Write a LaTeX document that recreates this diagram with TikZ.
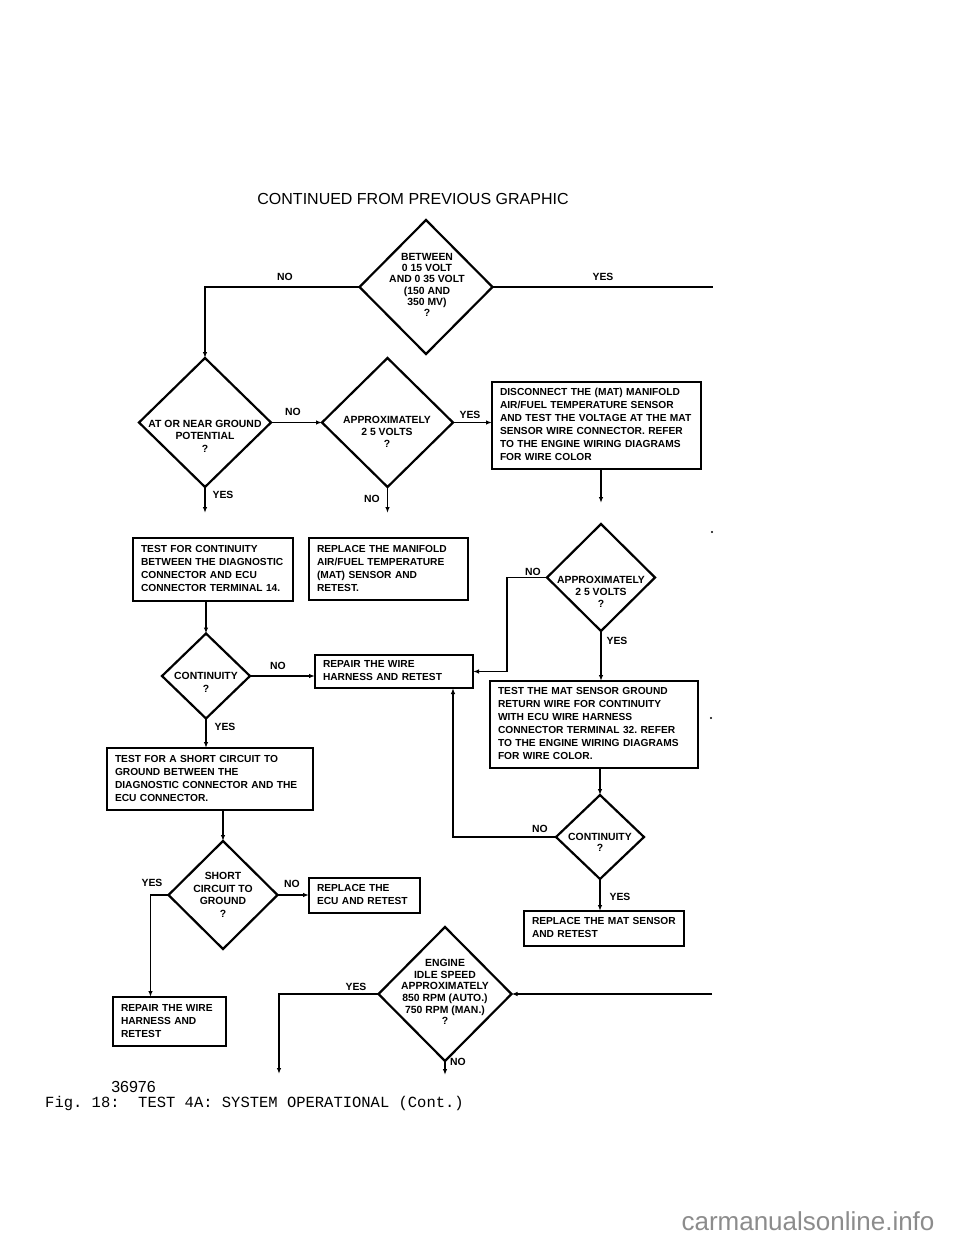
\documentclass[tikz,border=0pt]{standalone}
\usepackage{fontspec}
\setmainfont{Liberation Sans}
\newfontfamily\figmono{Liberation Mono}
\usetikzlibrary{shapes.geometric,arrows.meta,calc}
\definecolor{wmgray}{RGB}{140,140,140}
\newcommand{\bxlines}[1]{\begin{tabular}{@{}l@{}}#1\end{tabular}}
\begin{document}
\frenchspacing
\begin{tikzpicture}[x=1pt,y=-1pt,
  dshape/.style={draw, shape=diamond, line width=2.2pt, inner sep=0pt, outer sep=0pt},
  box/.style={draw, rectangle, line width=2.2pt, inner xsep=8pt, inner ysep=2pt, outer sep=0pt, align=left, font=\fontsize{10.2}{13}\selectfont\bfseries},
  dtext/.style={align=center, inner sep=0pt, font=\fontsize{10.4}{12}\selectfont\bfseries},
  lbl/.style={inner sep=0pt, font=\fontsize{10.4}{12}\selectfont\bfseries},
  arr/.style={line width=1.8pt, -{Latex[length=6pt,width=4.5pt]}},
  ln/.style={line width=1.8pt},
]
\path[use as bounding box, fill=white] (0,0) rectangle (960,1242);

\node[font=\fontsize{16}{19}\selectfont, inner sep=0pt] (title) at (413,199) {CONTINUED FROM PREVIOUS GRAPHIC};

% diamonds
\node[dshape, minimum width=133pt, minimum height=134pt] (d1) at (426,287) {};
\node[dtext, font=\fontsize{10.4}{11.2}\selectfont\bfseries] (d1t) at (427,285) {BETWEEN\\0 15 VOLT\\AND 0 35 VOLT\\(150 AND\\350 MV)\\?};

\node[dshape, minimum width=132pt, minimum height=129pt] (d2) at (205,422.5) {};
\node[dtext, font=\fontsize{10.4}{12.5}\selectfont\bfseries] (d2t) at (205,436) {AT OR NEAR GROUND\\POTENTIAL\\?};

\node[dshape, minimum width=131pt, minimum height=129pt] (d3) at (387.5,422.5) {};
\node[dtext] (d3t) at (387,432) {APPROXIMATELY\\2 5 VOLTS\\?};

\node[dshape, minimum width=108pt, minimum height=107pt] (d4) at (601,577.5) {};
\node[dtext] (d4t) at (601,592) {APPROXIMATELY\\2 5 VOLTS\\?};

\node[dshape, minimum width=88pt, minimum height=85pt] (cont1) at (206,676) {};
\node[dtext, font=\fontsize{10.4}{13}\selectfont\bfseries] (cont1t) at (206,682.5) {CONTINUITY\\?};

\node[dshape, minimum width=88pt, minimum height=84pt] (c2) at (600,837) {};
\node[dtext, font=\fontsize{10.4}{11}\selectfont\bfseries] (c2t) at (600,842.5) {CONTINUITY\\?};

\node[dshape, minimum width=109pt, minimum height=108pt] (short) at (223,895) {};
\node[dtext, font=\fontsize{10.4}{12.7}\selectfont\bfseries] (shortt) at (223,895) {SHORT\\CIRCUIT TO\\GROUND\\?};

\node[dshape, minimum width=133pt, minimum height=134pt] (eng) at (445,994) {};
\node[dtext, font=\fontsize{10.4}{11.6}\selectfont\bfseries] (engt) at (445,992) {ENGINE\\IDLE SPEED\\APPROXIMATELY\\850 RPM (AUTO.)\\750 RPM (MAN.)\\?};

% boxes
\node[box, text width=193pt, minimum height=87pt] (dis) at (596.5,425.5) {\bxlines{DISCONNECT THE (MAT) MANIFOLD\\AIR/FUEL TEMPERATURE SENSOR\\AND TEST THE VOLTAGE AT THE MAT\\SENSOR WIRE CONNECTOR. REFER\\TO THE ENGINE WIRING DIAGRAMS\\FOR WIRE COLOR}};
\node[box, text width=144pt, minimum height=63pt] (tc) at (213,569.5) {\bxlines{TEST FOR CONTINUITY\\BETWEEN THE DIAGNOSTIC\\CONNECTOR AND ECU\\CONNECTOR TERMINAL 14.}};
\node[box, text width=143pt, minimum height=62pt] (rm) at (388.5,569) {\bxlines{REPLACE THE MANIFOLD\\AIR/FUEL TEMPERATURE\\(MAT) SENSOR AND\\RETEST.}};
\node[box, text width=142pt, minimum height=33pt] (rep) at (394,671.5) {\bxlines{REPAIR THE WIRE\\HARNESS AND RETEST}};
\node[box, text width=192pt, minimum height=87pt] (tmat) at (594,724.5) {\bxlines{TEST THE MAT SENSOR GROUND\\RETURN WIRE FOR CONTINUITY\\WITH ECU WIRE HARNESS\\CONNECTOR TERMINAL 32. REFER\\TO THE ENGINE WIRING DIAGRAMS\\FOR WIRE COLOR.}};
\node[box, text width=190pt, minimum height=62pt] (ts) at (210,779) {\bxlines{TEST FOR A SHORT CIRCUIT TO\\GROUND BETWEEN THE\\DIAGNOSTIC CONNECTOR AND THE\\ECU CONNECTOR.}};
\node[box, text width=95pt, minimum height=35pt] (recu) at (364.5,895.5) {\bxlines{REPLACE THE\\ECU AND RETEST}};
\node[box, text width=144pt, minimum height=35pt] (rmat) at (604,928.5) {\bxlines{REPLACE THE MAT SENSOR\\AND RETEST}};
\node[box, text width=97pt, minimum height=49pt] (rep2) at (169.5,1021.5) {\bxlines{REPAIR THE WIRE\\HARNESS AND\\RETEST}};

% labels
\node[lbl] (l1no) at (285,277) {NO};
\node[lbl] (l1yes) at (603,277) {YES};
\node[lbl] (l2no) at (293,412) {NO};
\node[lbl] (l2yes) at (223,495) {YES};
\node[lbl] (l3no) at (372,499) {NO};
\node[lbl] (l3yes) at (470,415) {YES};
\node[lbl] (l4no) at (533,572) {NO};
\node[lbl] (l4yes) at (617,641) {YES};
\node[lbl] (l5no) at (278,666) {NO};
\node[lbl] (l5yes) at (225,727) {YES};
\node[lbl] (l6no) at (540,829) {NO};
\node[lbl] (l6yes) at (620,897) {YES};
\node[lbl] (l7yes) at (152,883) {YES};
\node[lbl] (l7no) at (292,884) {NO};
\node[lbl] (l8yes) at (356,987) {YES};
\node[lbl] (l8no) at (458,1062) {NO};

% free ends
\coordinate (d1end) at (713,287);
\coordinate (d2end) at (205,513);
\coordinate (d3end) at (387.5,513);
\coordinate (disend) at (601,503);
\coordinate (in8) at (712,994);
\coordinate (e8yes) at (279,1074);
\coordinate (e8no) at (445,1075);

% connectors
\draw[arr] (d1.west) -| (d2.north);
\draw[ln] (d1.east) -- (d1end);
\draw[arr] (d2.east) -- (d3.west);
\draw[arr] (d2.south) -- (d2end);
\draw[arr] (d3.south) -- (d3end);
\draw[arr] (d3.east) -- (d3.east -| dis.west);
\draw[arr] (dis.south -| disend) -- (disend);
\draw[arr] (d4.west) -- ++(-40,0) |- (rep.east);
\draw[arr] (d4.south) -- (d4.south |- tmat.north);
\draw[arr] (tmat.south -| c2.north) -- (c2.north);
\draw[arr] (c2.west) -| ([xshift=-20pt]rep.south east);
\draw[arr] (c2.south) -- (c2.south |- rmat.north);
\draw[arr] (tc.south -| cont1.north) -- (cont1.north);
\draw[arr] (cont1.east) -- (cont1.east -| rep.west);
\draw[arr] (cont1.south) -- (cont1.south |- ts.north);
\draw[arr] (ts.south -| short.north) -- (short.north);
\draw[arr] (short.east) -- (short.east -| recu.west);
\draw[arr] (short.west) -| ([xshift=-19pt]rep2.north);
\draw[arr] (in8) -- (eng.east);
\draw[arr] (eng.west) -| (e8yes);
\draw[arr] (eng.south) -- (e8no);

% specks
\fill (712,532) circle[radius=1.2pt];
\fill (711,718) circle[radius=1.2pt];

% footer
\node[font=\fontsize{16}{19}\selectfont, inner sep=0pt] (num) at (133.5,1087) {36976};
\node[anchor=west, font=\figmono\fontsize{15.5}{18}\selectfont, inner sep=0pt] (fig) at (45,1103) {Fig. 18:\ \ TEST 4A: SYSTEM OPERATIONAL (Cont.)};
\node[font=\fontsize{26}{30}\selectfont, text=wmgray, inner sep=0pt] (wm) at (808,1221) {carmanualsonline.info};
\end{tikzpicture}
\end{document}
